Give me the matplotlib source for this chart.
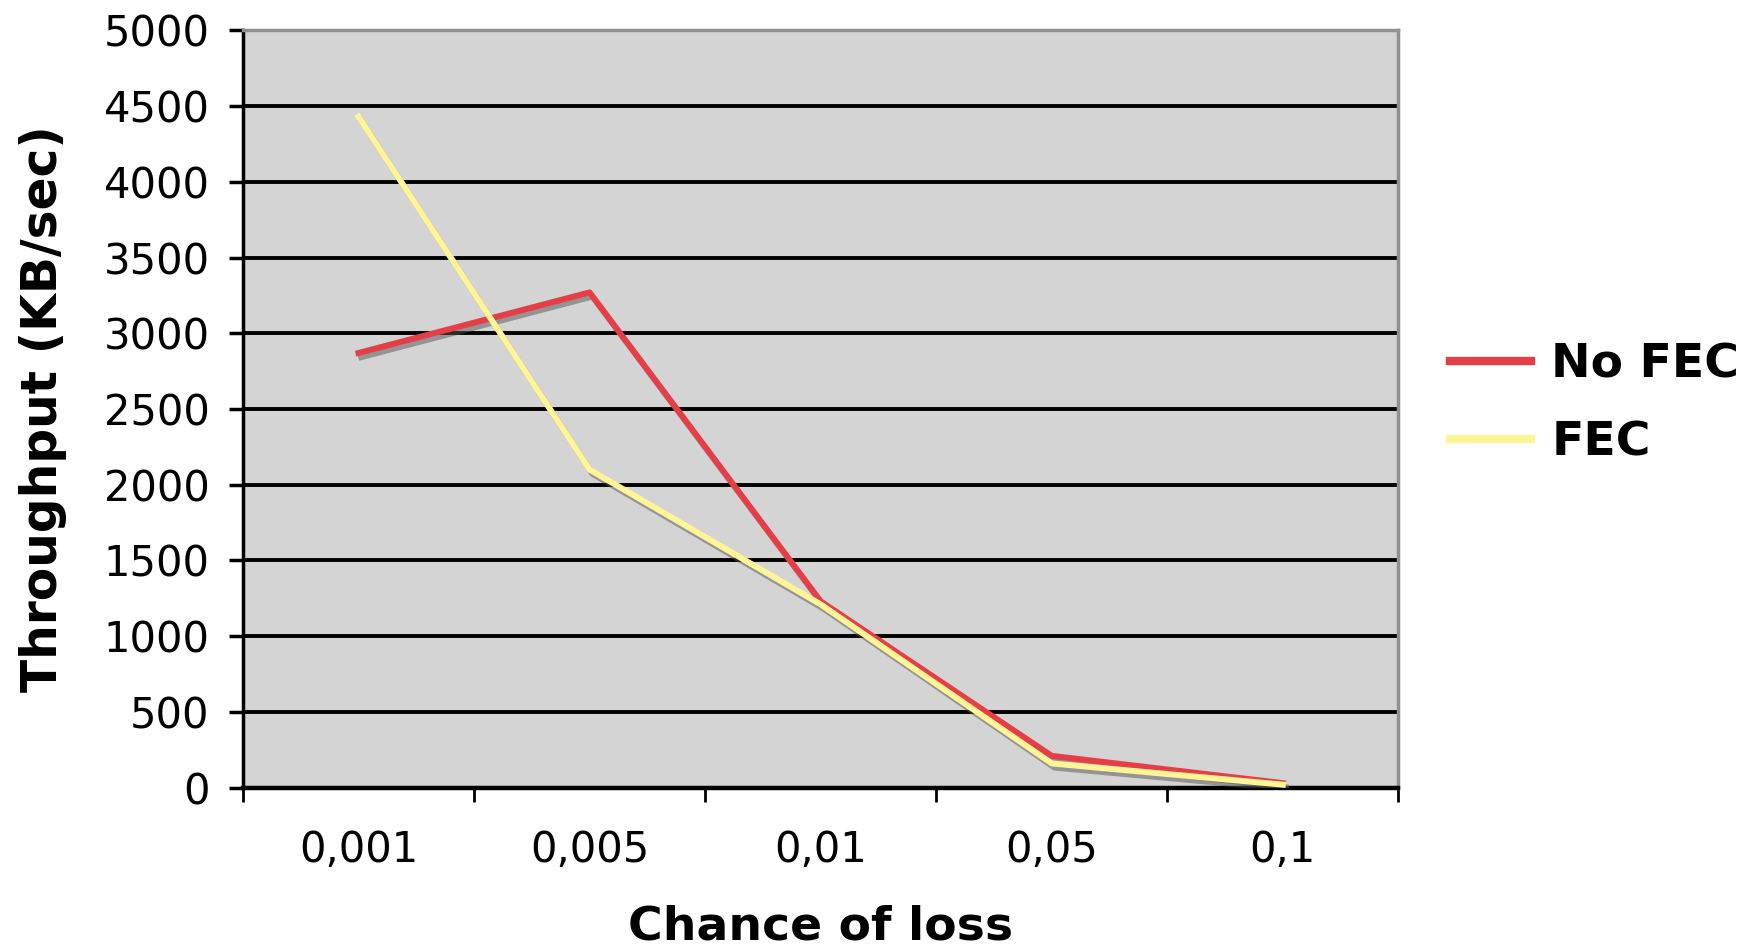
import matplotlib
matplotlib.use('Agg')
import matplotlib.pyplot as plt
import matplotlib.patheffects as pe
import numpy as np

# data
categories = ['0,001', '0,005', '0,01', '0,05', '0,1']
no_fec = [2870, 3270, 1230, 210, 30]
fec = [4430, 2100, 1210, 160, 20]
y_ticks = np.arange(0, 5001, 500)

plt.rcParams['font.family'] = ['DejaVu Sans']

fig = plt.figure(figsize=(17.48, 9.49), dpi=100)
ax = fig.add_axes([0.139, 0.170, 0.661, 0.798])
ax.set_facecolor('#d4d4d4')

x = np.arange(len(categories))
shadow = [pe.SimpleLineShadow(offset=(2, -3), shadow_color='#555555', alpha=0.5), pe.Normal()]
ax.plot(x, no_fec, color='#e63e46', lw=4.3, label='No FEC', path_effects=shadow, zorder=3)
ax.plot(x, fec, color='#fff597', lw=4.3, label='FEC', path_effects=shadow, zorder=4)

ax.set_xlim(-0.5, len(categories) - 0.5)
ax.set_ylim(0, 5000)

# category boundaries get the tick marks, centres get the labels
ax.set_xticks(np.arange(-0.5, len(categories)), labels=[''] * (len(categories) + 1))
ax.set_xticks(x, labels=categories, minor=True)
ax.tick_params(axis='x', which='major', direction='out', length=10, width=2)
ax.tick_params(axis='x', which='minor', length=0, pad=30, labelsize=30)

ax.set_yticks(y_ticks)
ax.tick_params(axis='y', direction='out', length=10, width=2.5, pad=14, labelsize=30)
ax.yaxis.grid(True, color='black', lw=2.8)
ax.set_axisbelow(True)

for s in ['left', 'bottom']:
    ax.spines[s].set_color('black')
ax.spines['left'].set_linewidth(2.5)
ax.spines['bottom'].set_linewidth(3.2)
for s in ['top', 'right']:
    ax.spines[s].set_color('#909090')
    ax.spines[s].set_linewidth(2.5)

ax.set_xlabel('Chance of loss', fontsize=34, fontweight='bold', labelpad=24)
ax.set_ylabel('Throughput (KB/sec)', fontsize=35, fontweight='bold', labelpad=26)

leg = fig.legend(handles=[plt.Line2D([], [], color='#e63e46', lw=6),
                          plt.Line2D([], [], color='#fff597', lw=6)],
                 labels=['No FEC', 'FEC'],
                 loc='upper left', bbox_to_anchor=(0.805, 0.684), frameon=False,
                 prop={'size': 34, 'weight': 'bold'}, handlelength=1.72,
                 handletextpad=0.43, labelspacing=0.7)

fig.savefig('out.png', dpi=100)
